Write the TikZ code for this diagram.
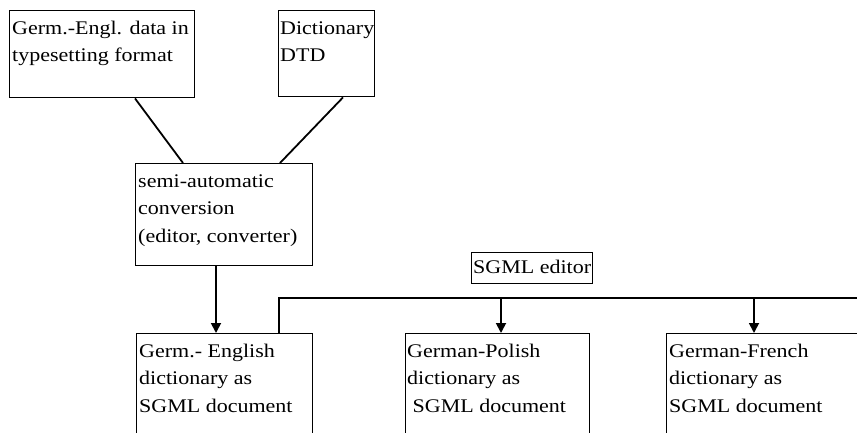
\documentclass[tikz,border=0pt]{standalone}
\usepackage{fontspec}
\setmainfont{Liberation Serif}[FakeStretch=1.14]
\usetikzlibrary{arrows.meta}
\begin{document}
\begin{tikzpicture}[x=1pt,y=-1pt,
  box/.style={draw, line width=1.4pt, rectangle, inner sep=0pt, anchor=north west},
  txt/.style={anchor=north west, inner sep=0pt, align=left, font=\fontsize{19.3}{27.5}\selectfont},
  conn/.style={line width=1.8pt},
  arr/.style={conn, -{Triangle[width=10pt,length=10pt]}}]
\useasboundingbox (0,0) rectangle (857,432);
\clip (0,0) rectangle (857,432);
% boxes
\node[box, minimum width=185pt, minimum height=87pt] (A) at (9,10) {};
\node[box, minimum width=96pt, minimum height=86pt] (B) at (278,10) {};
\node[box, minimum width=177pt, minimum height=102pt] (C) at (135,163) {};
\node[box, minimum width=121pt, minimum height=31pt] (E) at (471,252) {};
\node[box, minimum width=176pt, minimum height=130pt] (D) at (136,333) {};
\node[box, minimum width=184pt, minimum height=130pt] (F) at (405,333) {};
\node[box, minimum width=220pt, minimum height=130pt] (G) at (666,333) {};
% texts
\node[txt] (At) at ([xshift=3pt,yshift=-5pt]A.north west) {\strut Germ.-Engl. data in\\typesetting format};
\node[txt] (Bt) at ([xshift=2pt,yshift=-5pt]B.north west) {\strut Dictionary\\DTD};
\node[txt] (Ct) at ([xshift=3pt,yshift=-5pt]C.north west) {\strut semi-automatic\\conversion\\(editor, converter)};
\node[font=\fontsize{19.3}{27.5}\selectfont, inner sep=0pt] (Et) at ([yshift=1pt]E.center) {SGML editor};
\node[txt] (Dt) at ([xshift=3pt,yshift=-5pt]D.north west) {\strut Germ.- English\\dictionary as\\SGML document};
\node[txt] (Ft) at ([xshift=2pt,yshift=-5pt]F.north west) {\strut German-Polish\\dictionary as\\~SGML document};
\node[txt] (Gt) at ([xshift=3pt,yshift=-5pt]G.north west) {\strut German-French\\dictionary as\\SGML document};
% connectors
\draw[conn] ([xshift=126pt]A.south west) -- ([xshift=48pt]C.north west);
\draw[conn] ([xshift=65pt]B.south west) -- ([xshift=145pt]C.north west);
\draw[arr] ([xshift=81pt]C.south west) -- ([xshift=80pt]D.north west);
\coordinate (bus) at (279,298);
\coordinate (busend) at (870,298);
\draw[conn] ([xshift=143pt]D.north west) -- (bus) -- (busend);
\draw[arr] (bus -| F.north west) ++(96pt,0) -- ([xshift=96pt]F.north west);
\draw[arr] (bus -| G.north west) ++(88pt,0) -- ([xshift=88pt]G.north west);
\end{tikzpicture}
\end{document}
